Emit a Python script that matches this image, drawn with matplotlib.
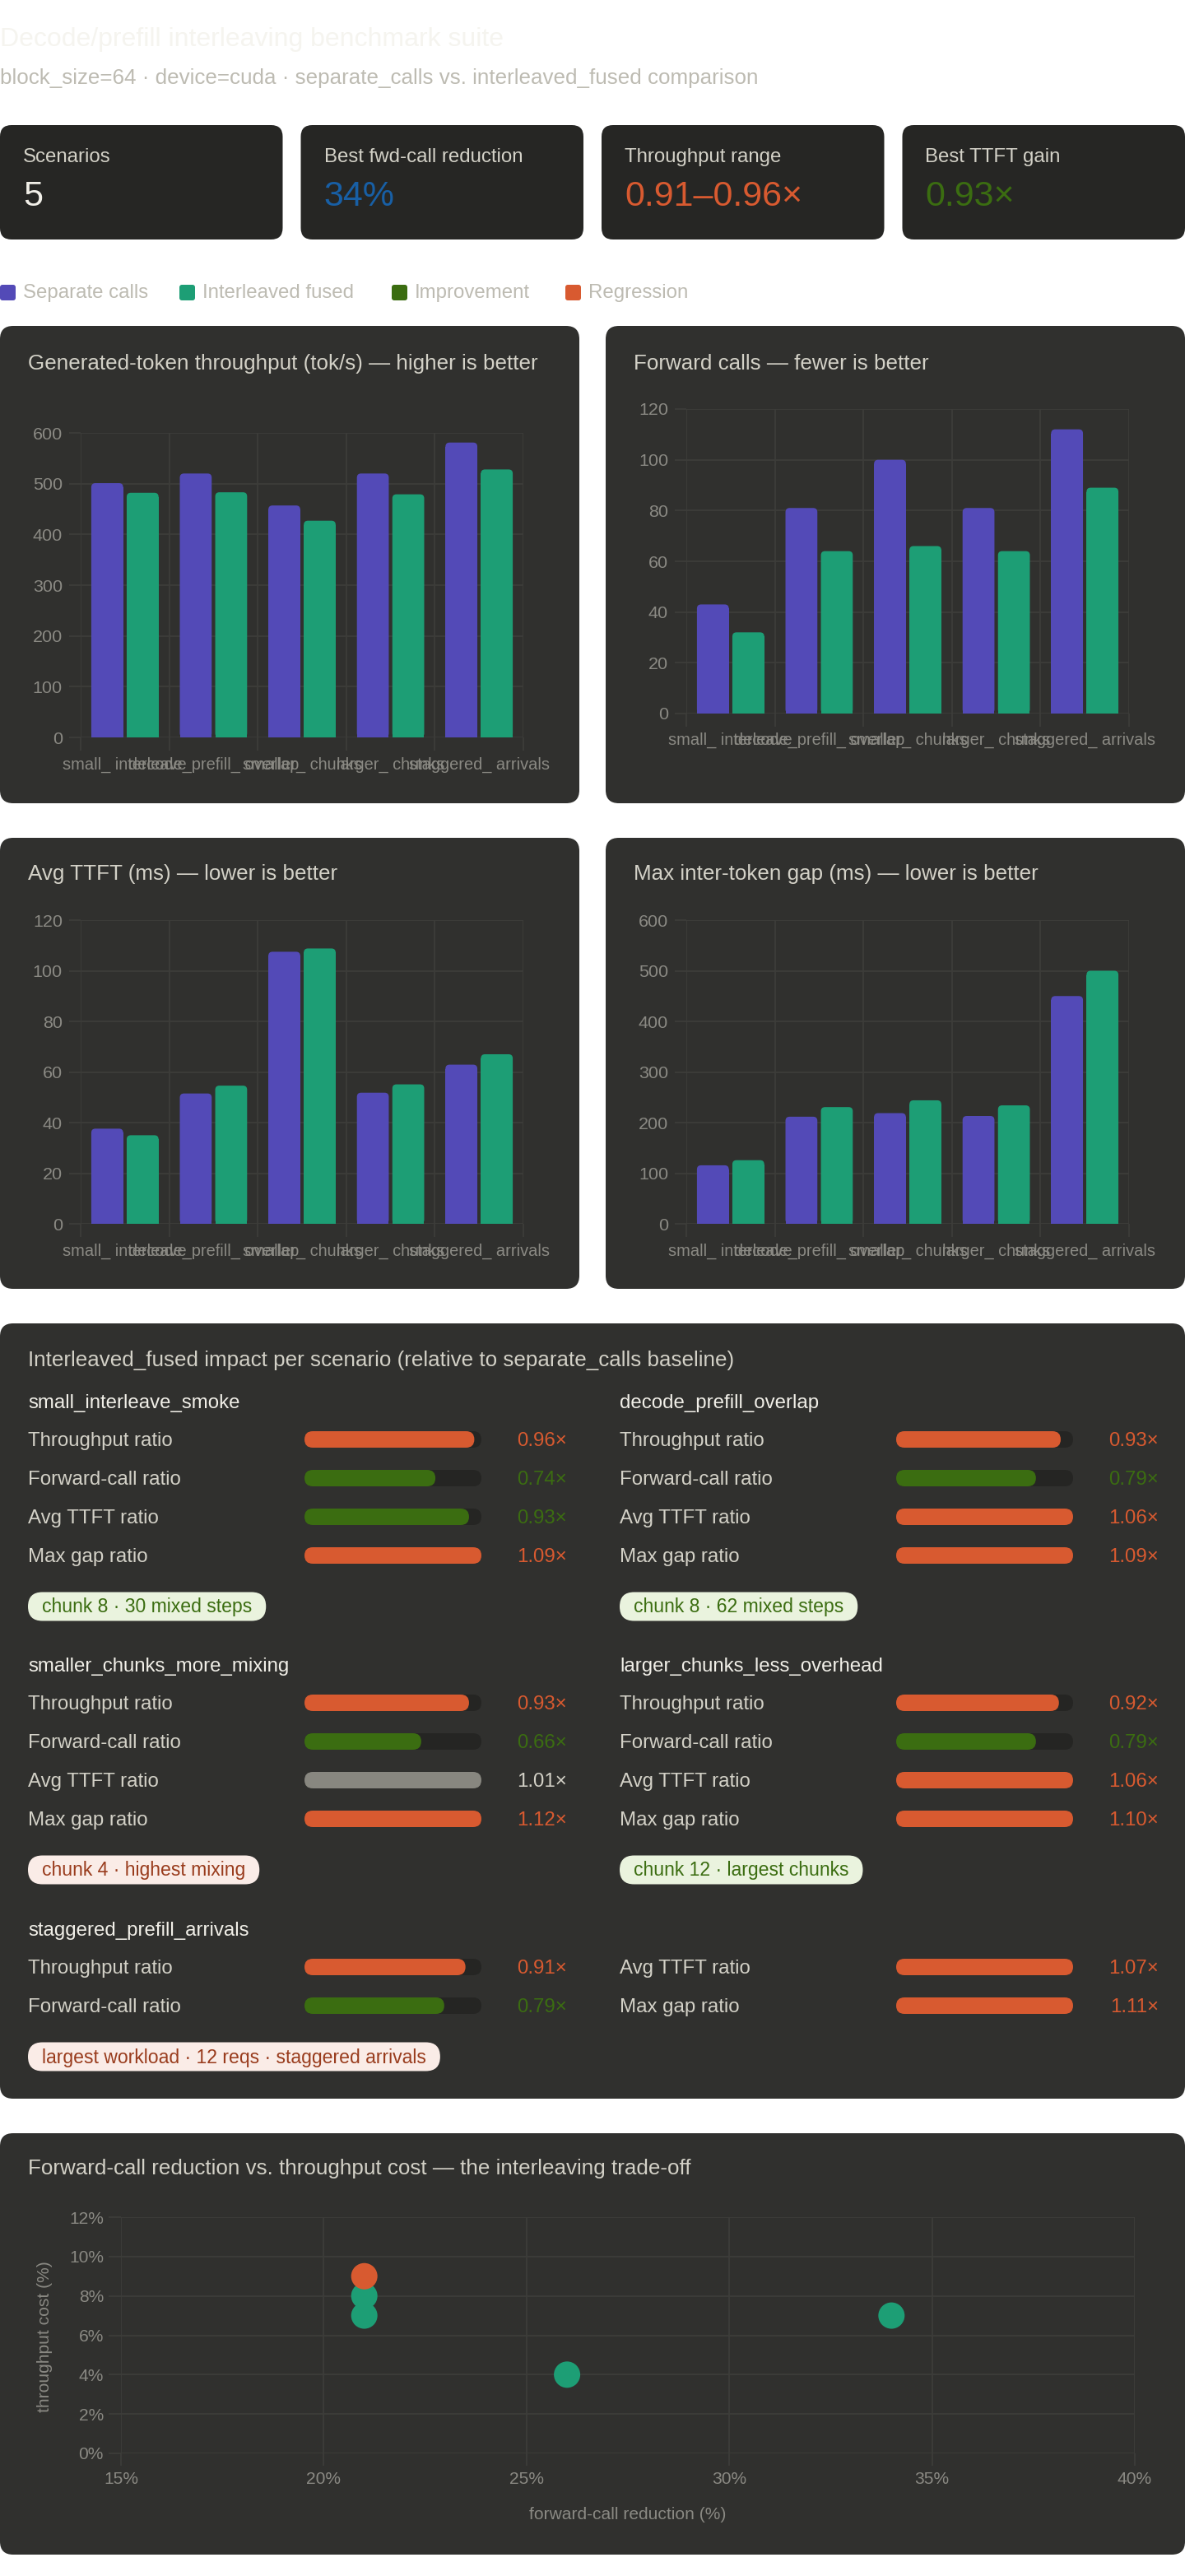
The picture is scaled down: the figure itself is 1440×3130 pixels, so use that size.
import matplotlib
matplotlib.use("Agg")
import matplotlib.pyplot as plt
from matplotlib.patches import FancyBboxPatch
from matplotlib.ticker import MultipleLocator, FuncFormatter
import numpy as np

plt.rcParams["font.family"] = ["Liberation Sans", "DejaVu Sans"]

W, H, DPI = 1440, 3130, 100

# ---- data -------------------------------------------------------------
SCENARIOS = ["small_interleave_smoke", "decode_prefill_overlap",
             "smaller_chunks_more_mixing", "larger_chunks_less_overhead",
             "staggered_prefill_arrivals"]
AXIS_LABELS = ["small_ interleave", "decode_prefill_ overlap", "smaller_ chunks",
               "larger_ chunks", "staggered_ arrivals"]

THROUGHPUT_SEP = [501, 520, 457, 520, 581]
THROUGHPUT_FUSED = [482, 483, 427, 479, 528]
FWD_SEP = [43, 81, 100, 81, 112]
FWD_FUSED = [32, 64, 66, 64, 89]
TTFT_SEP = [37.6, 51.5, 107.5, 51.8, 62.9]
TTFT_FUSED = [35.0, 54.6, 108.8, 55.1, 67.0]
GAP_SEP = [115.6, 211.6, 218.7, 213.0, 450.0]
GAP_FUSED = [125.7, 230.6, 244.0, 234.0, 500.0]

THROUGHPUT_RATIO = [0.96, 0.93, 0.93, 0.92, 0.91]
FWD_RATIO = [0.74, 0.79, 0.66, 0.79, 0.79]
TTFT_RATIO = [0.93, 1.06, 1.01, 1.06, 1.07]
GAP_RATIO = [1.09, 1.09, 1.12, 1.10, 1.11]

METRIC_NAMES = ["Throughput ratio", "Forward-call ratio", "Avg TTFT ratio", "Max gap ratio"]
HIGHER_BETTER = [True, False, False, False]

TAGS = ["chunk 8 · 30 mixed steps", "chunk 8 · 62 mixed steps",
        "chunk 4 · highest mixing", "chunk 12 · largest chunks",
        "largest workload · 12 reqs · staggered arrivals"]
TAG_KIND = ["good", "good", "bad", "good", "bad"]

FWD_REDUCTION = [26, 21, 34, 21, 21]      # %
THROUGHPUT_COST = [4, 7, 7, 8, 9]         # %

# ---- style ------------------------------------------------------------
PAGE = "#ffffff"
CARD = "#262624"
PANEL = "#30302e"
GRID = "#3d3d3a"
TRACK = "#252523"
TXT_HI = "#f1efe8"
TXT = "#d3d1c7"
TXT_SUB = "#bdbbb2"
TXT_MUTED = "#8a8983"
PURPLE = "#534ab7"
TEAL = "#1d9e75"
GOOD = "#3b6d11"
BAD = "#d85a30"
BLUE = "#185fa5"
NEUTRAL = "#888780"

FILL = {"good": GOOD, "bad": BAD, "neutral": NEUTRAL}
VALUE_COLOR = {"good": GOOD, "bad": BAD, "neutral": TXT}
TAG_BG = {"good": "#eaf3de", "bad": "#faece7"}
TAG_FG = {"good": GOOD, "bad": "#993c1d"}


def pt(px):
    return px * 72 / DPI


fig = plt.figure(figsize=(W / DPI, H / DPI), dpi=DPI, facecolor=PAGE)
bg = fig.add_axes([0, 0, 1, 1])
bg.set_xlim(0, W)
bg.set_ylim(H, 0)
bg.axis("off")


def rounded(x, y, w, h, r, color, z=1):
    bg.add_patch(FancyBboxPatch((x, y), w, h, boxstyle=f"round,pad=0,rounding_size={r}",
                                fc=color, ec="none", zorder=z))


def text(x, y, s, px, color, ha="left", z=4, **kw):
    return bg.text(x, y + 2, s, fontsize=pt(px), color=color, ha=ha, va="center",
                   zorder=z, **kw)


def tone(ratio, higher_better):
    if abs(ratio - 1) < 0.02:
        return "neutral"
    better = ratio > 1 if higher_better else ratio < 1
    return "good" if better else "bad"


# ---- header -----------------------------------------------------------
text(0, 46, "Decode/prefill interleaving benchmark suite", 32, "#f5f4ef")
text(0, 93, "block_size=64 · device=cuda · separate_calls vs. interleaved_fused comparison",
     26, TXT_SUB)

# KPI cards (values derived from the scenario data)
best_fwd = max(1 - r for r in FWD_RATIO) * 100
kpi_labels = ["Scenarios", "Best fwd-call reduction", "Throughput range", "Best TTFT gain"]
kpi_values = [f"{len(SCENARIOS)}", f"{best_fwd:.0f}%",
              f"{min(THROUGHPUT_RATIO):.2f}–{max(THROUGHPUT_RATIO):.2f}×",
              f"{min(TTFT_RATIO):.2f}×"]
kpi_colors = [TXT_HI, BLUE, BAD, GOOD]
card_w = (W - 3 * 22) / 4
for i, (lab, val, col) in enumerate(zip(kpi_labels, kpi_values, kpi_colors)):
    cx = i * (card_w + 22)
    rounded(cx, 152, card_w, 139, 14, CARD)
    text(cx + 28, 189, lab, 24, TXT)
    text(cx + 28, 237, val, 43, col)

# legend
legend = [("Separate calls", PURPLE), ("Interleaved fused", TEAL),
          ("Improvement", GOOD), ("Regression", BAD)]
lx = [0, 218, 476, 687]
for x, (lab, col) in zip(lx, legend):
    rounded(x, 346, 19, 19, 3, col)
    text(x + 28, 354, lab, 24, TXT_SUB)


# ---- bar charts -------------------------------------------------------
def round_tops(ax, bars, w_px, h_px, r_px=5):
    x_lo, x_hi = ax.get_xlim()
    y_lo, y_hi = ax.get_ylim()
    rx = r_px * (x_hi - x_lo) / w_px
    ry = r_px * (y_hi - y_lo) / h_px
    for b in bars:
        x, y, w, h = b.get_x(), b.get_y(), b.get_width(), b.get_height()
        b.set_height(h - ry)
        ax.add_patch(FancyBboxPatch((x, y), w, h,
                                    boxstyle=f"round,pad=0,rounding_size={rx}",
                                    mutation_aspect=ry / rx, fc=b.get_facecolor(),
                                    ec="none", zorder=2))


def bar_chart(box, sep, fused, ymax, ystep, xpad):
    x0, y0, x1, y1 = box
    ax = fig.add_axes([x0 / W, 1 - y1 / H, (x1 - x0) / W, (y1 - y0) / H])
    ax.set_facecolor("none")
    idx = np.arange(len(sep))
    b1 = ax.bar(idx - 0.2, sep, width=0.36, color=PURPLE, zorder=2)
    b2 = ax.bar(idx + 0.2, fused, width=0.36, color=TEAL, zorder=2)
    ax.set_xlim(-0.5, len(sep) - 0.5)
    ax.set_ylim(0, ymax)
    round_tops(ax, list(b1) + list(b2), x1 - x0, y1 - y0)
    ax.set_yticks(np.arange(0, ymax + 1, ystep))
    ax.set_xticks(idx, AXIS_LABELS)
    ax.set_xticks(np.arange(-0.5, len(sep)), minor=True)
    ax.grid(True, axis="y", color=GRID, lw=1.3)
    ax.grid(True, axis="x", which="minor", color=GRID, lw=1.3)
    ax.tick_params(axis="y", length=pt(14), width=1.3, color=GRID, pad=pt(8),
                   labelsize=pt(21.5), labelcolor=TXT_MUTED)
    ax.tick_params(axis="x", which="major", length=0, pad=pt(xpad),
                   labelsize=pt(20), labelcolor=TXT_MUTED)
    ax.tick_params(axis="x", which="minor", length=pt(16), width=1.3, color=GRID)
    for s in ax.spines.values():
        s.set_visible(False)
    ax.set_axisbelow(True)
    return ax


rounded(0, 396, 704, 580, 16, PANEL)
rounded(736, 396, 704, 580, 16, PANEL)
rounded(0, 1018, 704, 548, 16, PANEL)
rounded(736, 1018, 704, 548, 16, PANEL)

text(34, 440, "Generated-token throughput (tok/s) — higher is better", 26, TXT)
text(770, 440, "Forward calls — fewer is better", 26, TXT)
text(34, 1060, "Avg TTFT (ms) — lower is better", 26, TXT)
text(770, 1060, "Max inter-token gap (ms) — lower is better", 26, TXT)

bar_chart((98, 526, 636, 896), THROUGHPUT_SEP, THROUGHPUT_FUSED, 600, 100, 24)
bar_chart((834, 497, 1372, 867), FWD_SEP, FWD_FUSED, 120, 20, 23)
bar_chart((98, 1118, 636, 1487), TTFT_SEP, TTFT_FUSED, 120, 20, 24)
bar_chart((834, 1118, 1372, 1487), GAP_SEP, GAP_FUSED, 600, 100, 24)

# ---- impact panel -----------------------------------------------------
rounded(0, 1608, W, 942, 16, PANEL)
text(34, 1651, "Interleaved_fused impact per scenario (relative to separate_calls baseline)",
     26, TXT)

COL_X = [34, 753]
BLOCK_Y = [1703, 2023, 2344]
TRACK_W = 215
RATIOS = [THROUGHPUT_RATIO, FWD_RATIO, TTFT_RATIO, GAP_RATIO]
renderer = fig.canvas.get_renderer()


def metric_row(x, y, name, ratio, higher_better):
    kind = tone(ratio, higher_better)
    text(x, y, name, 24, TXT)
    rounded(x + 336, y - 10, TRACK_W, 20, 10, TRACK, z=2)
    rounded(x + 336, y - 10, TRACK_W * min(ratio, 1.0), 20, 10, FILL[kind], z=3)
    text(x + 655, y, f"{ratio:.2f}×", 24, VALUE_COLOR[kind], ha="right")


def tag(x, y, label, kind):
    t = text(x + 17, y - 1, label, 23, TAG_FG[kind])
    w = t.get_window_extent(renderer).width
    rounded(x, y - 17.5, w + 34, 35, 17.5, TAG_BG[kind], z=3)


n = len(SCENARIOS)
for i, name in enumerate(SCENARIOS):
    block, col = divmod(i, 2)
    ny = BLOCK_Y[block]
    x = COL_X[col]
    text(x, ny, name, 24, TXT_HI)
    alone = (i == n - 1) and (n % 2 == 1)
    rows_per_col = 2 if alone else len(METRIC_NAMES)
    for j, mname in enumerate(METRIC_NAMES):
        if alone:
            mx, ry = COL_X[j // 2], ny + 46 + (j % 2) * 47
        else:
            mx, ry = x, ny + 46 + j * 47
        metric_row(mx, ry, mname, RATIOS[j][i], HIGHER_BETTER[j])
    tag(x, ny + 46 + (rows_per_col - 1) * 47 + 62, TAGS[i], TAG_KIND[i])

# ---- trade-off scatter -------------------------------------------------
rounded(0, 2592, W, 512, 16, PANEL)
text(34, 2633, "Forward-call reduction vs. throughput cost — the interleaving trade-off", 26, TXT)

sx0, sy0, sx1, sy1 = 147, 2694, 1379, 2981
ax = fig.add_axes([sx0 / W, 1 - sy1 / H, (sx1 - sx0) / W, (sy1 - sy0) / H])
ax.set_facecolor("none")
pt_colors = [BAD if c > 8 else TEAL for c in THROUGHPUT_COST]
ax.scatter(FWD_REDUCTION, THROUGHPUT_COST, s=pt(32) ** 2, c=pt_colors,
           linewidths=0, zorder=3)
ax.set_xlim(15, 40)
ax.set_ylim(0, 12)
ax.xaxis.set_major_locator(MultipleLocator(5))
ax.yaxis.set_major_locator(MultipleLocator(2))
pct = FuncFormatter(lambda v, _: f"{v:.0f}%")
ax.xaxis.set_major_formatter(pct)
ax.yaxis.set_major_formatter(pct)
ax.grid(True, color=GRID, lw=1.3)
ax.tick_params(axis="both", length=pt(15), width=1.3, color=GRID,
               labelsize=pt(21), labelcolor=TXT_MUTED)
ax.tick_params(axis="x", pad=pt(7))
ax.tick_params(axis="y", pad=pt(6))
for s in ax.spines.values():
    s.set_visible(False)
ax.set_axisbelow(True)
ax.set_xlabel("forward-call reduction (%)", fontsize=pt(21), color=TXT_MUTED)
ax.xaxis.set_label_coords(0.5, (sy1 - 3046) / (sy1 - sy0))
text(55, 2837, "throughput cost (%)", 21, TXT_MUTED, ha="center", rotation=90)

fig.savefig("out.png", dpi=DPI, facecolor=PAGE)
